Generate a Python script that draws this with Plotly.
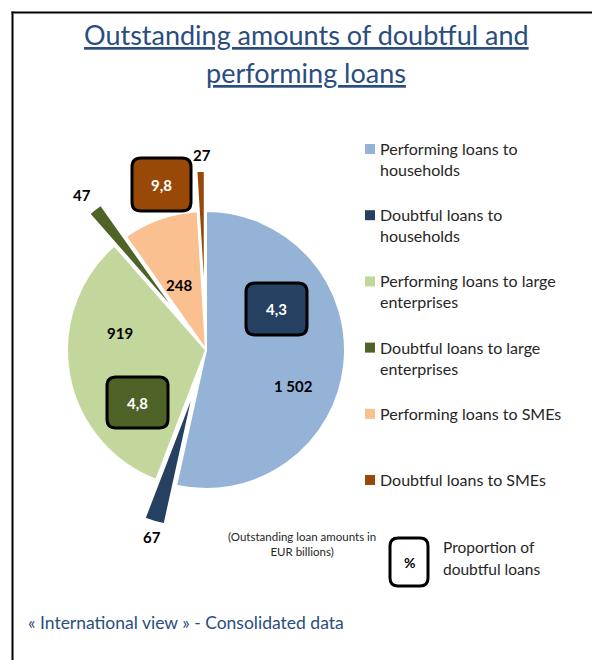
import textwrap
import plotly.graph_objects as go

# ---- data ----
labels = [
    "Performing loans to households",
    "Doubtful loans to households",
    "Performing loans to large enterprises",
    "Doubtful loans to large enterprises",
    "Performing loans to SMEs",
    "Doubtful loans to SMEs",
]
values = [1502, 67, 919, 47, 248, 27]
colors = ["#95B3D7", "#254061", "#C3D69B", "#4F6228", "#FAC090", "#984807"]
doubtful_share_labels = ["Households", "Large enterprises", "SMEs"]
doubtful_share = [4.3, 4.8, 9.8]

W, H = 592, 660


def px(x):
    return x / W


def py(y):
    return 1 - y / H


def fmt_int(v):
    return f"{v:,}".replace(",", " ")


def fmt_dec(v):
    return f"{v:.1f}".replace(".", ",")


def rrect(x0, y0, x1, y1, r):
    pts = (
        f"M {px(x0 + r)},{py(y0)} L {px(x1 - r)},{py(y0)} "
        f"Q {px(x1)},{py(y0)} {px(x1)},{py(y0 + r)} "
        f"L {px(x1)},{py(y1 - r)} Q {px(x1)},{py(y1)} {px(x1 - r)},{py(y1)} "
        f"L {px(x0 + r)},{py(y1)} Q {px(x0)},{py(y1)} {px(x0)},{py(y1 - r)} "
        f"L {px(x0)},{py(y0 + r)} Q {px(x0)},{py(y0)} {px(x0 + r)},{py(y0)} Z"
    )
    return pts


FONT = "Lato"
cx, cy, R = 206, 350, 139
pulls = [0, 0.29, 0, 0.29, 0, 0.29]
maxpull = max(pulls)
half = R * (1 + maxpull)

fig = go.Figure()
fig.add_trace(go.Pie(
    labels=labels,
    values=values,
    marker=dict(colors=colors, line=dict(color="white", width=2)),
    pull=pulls,
    sort=False,
    direction="clockwise",
    rotation=0,
    textinfo="none",
    showlegend=False,
    domain=dict(x=[px(cx - half), px(cx + half)], y=[py(cy + half), py(cy - half)]),
))

shapes = []
annotations = []

# frame
shapes.append(dict(type="line", xref="paper", yref="paper", x0=px(12.5), x1=px(12.5),
                   y0=py(11.5), y1=py(662), line=dict(color="black", width=2)))
shapes.append(dict(type="line", xref="paper", yref="paper", x0=px(11.5), x1=px(594),
                   y0=py(12.5), y1=py(12.5), line=dict(color="black", width=2)))

# title
title_col = "#2A4D80"
annotations.append(dict(text="<u>Outstanding amounts of doubtful and</u>", x=px(306), y=py(35),
                        xref="paper", yref="paper", showarrow=False, xanchor="center", yanchor="middle",
                        font=dict(family=FONT, size=27, color=title_col)))
annotations.append(dict(text="<u>performing loans</u>", x=px(306), y=py(72),
                        xref="paper", yref="paper", showarrow=False, xanchor="center", yanchor="middle",
                        font=dict(family=FONT, size=27, color=title_col)))

# slice value labels
label_pos = [(293, 386), (152, 537), (120, 333), (82, 195), (179, 285), (202, 155)]
for v, (lx, ly) in zip(values, label_pos):
    annotations.append(dict(text=f"<b>{fmt_int(v)}</b>", x=px(lx), y=py(ly), xref="paper", yref="paper",
                            showarrow=False, xanchor="center", yanchor="middle",
                            font=dict(family=FONT, size=15, color="black")))

# doubtful-share boxes
box_pos = [(246, 283, 307, 335), (107, 377, 168, 428), (132, 158, 191, 211)]
box_cols = [colors[1], colors[3], colors[5]]
for v, (x0, y0, x1, y1), c in zip(doubtful_share, box_pos, box_cols):
    shapes.append(dict(type="path", xref="paper", yref="paper", path=rrect(x0, y0, x1, y1, 9),
                       fillcolor=c, line=dict(color="black", width=3)))
    annotations.append(dict(text=f"<b>{fmt_dec(v)}</b>", x=px((x0 + x1) / 2), y=py((y0 + y1) / 2),
                            xref="paper", yref="paper", showarrow=False, xanchor="center", yanchor="middle",
                            font=dict(family=FONT, size=15, color="white")))

# custom legend
leg_y0, leg_step = 149, 66.2
for i, (lab, c) in enumerate(zip(labels, colors)):
    yc = leg_y0 + i * leg_step
    shapes.append(dict(type="rect", xref="paper", yref="paper", x0=px(365), x1=px(375),
                       y0=py(yc - 5), y1=py(yc + 5), fillcolor=c, line=dict(width=0)))
    text = "<br>".join(textwrap.wrap(lab, width=25))
    annotations.append(dict(text=text, x=px(378), y=py(yc - 12), xref="paper", yref="paper",
                            showarrow=False, xanchor="left", yanchor="top", align="left",
                            font=dict(family=FONT, size=16, color="#262626")))

# unit note
annotations.append(dict(text="(Outstanding loan amounts in<br>EUR billions)", x=px(302), y=py(544),
                        xref="paper", yref="paper", showarrow=False, xanchor="center", yanchor="middle",
                        align="center", font=dict(family=FONT, size=11.5, color="#262626")))

# % legend box
shapes.append(dict(type="path", xref="paper", yref="paper", path=rrect(390, 538, 428, 586, 8),
                   fillcolor="white", line=dict(color="black", width=3)))
annotations.append(dict(text="<b>%</b>", x=px(409), y=py(562), xref="paper", yref="paper",
                        showarrow=False, xanchor="center", yanchor="middle",
                        font=dict(family=FONT, size=14, color="black")))
annotations.append(dict(text="Proportion of", x=px(441), y=py(547), xref="paper", yref="paper",
                        showarrow=False, xanchor="left", yanchor="middle",
                        font=dict(family=FONT, size=15.5, color="#262626")))
annotations.append(dict(text="doubtful loans", x=px(441), y=py(569), xref="paper", yref="paper",
                        showarrow=False, xanchor="left", yanchor="middle",
                        font=dict(family=FONT, size=15.5, color="#262626")))

# footer
annotations.append(dict(text="« International view » - Consolidated data", x=px(26), y=py(622),
                        xref="paper", yref="paper", showarrow=False, xanchor="left", yanchor="middle",
                        font=dict(family=FONT, size=17.5, color=title_col)))

fig.update_layout(
    width=W, height=H,
    margin=dict(l=0, r=0, t=0, b=0),
    paper_bgcolor="white", plot_bgcolor="white",
    shapes=shapes, annotations=annotations,
    showlegend=False,
)

fig.write_html("out.html")
